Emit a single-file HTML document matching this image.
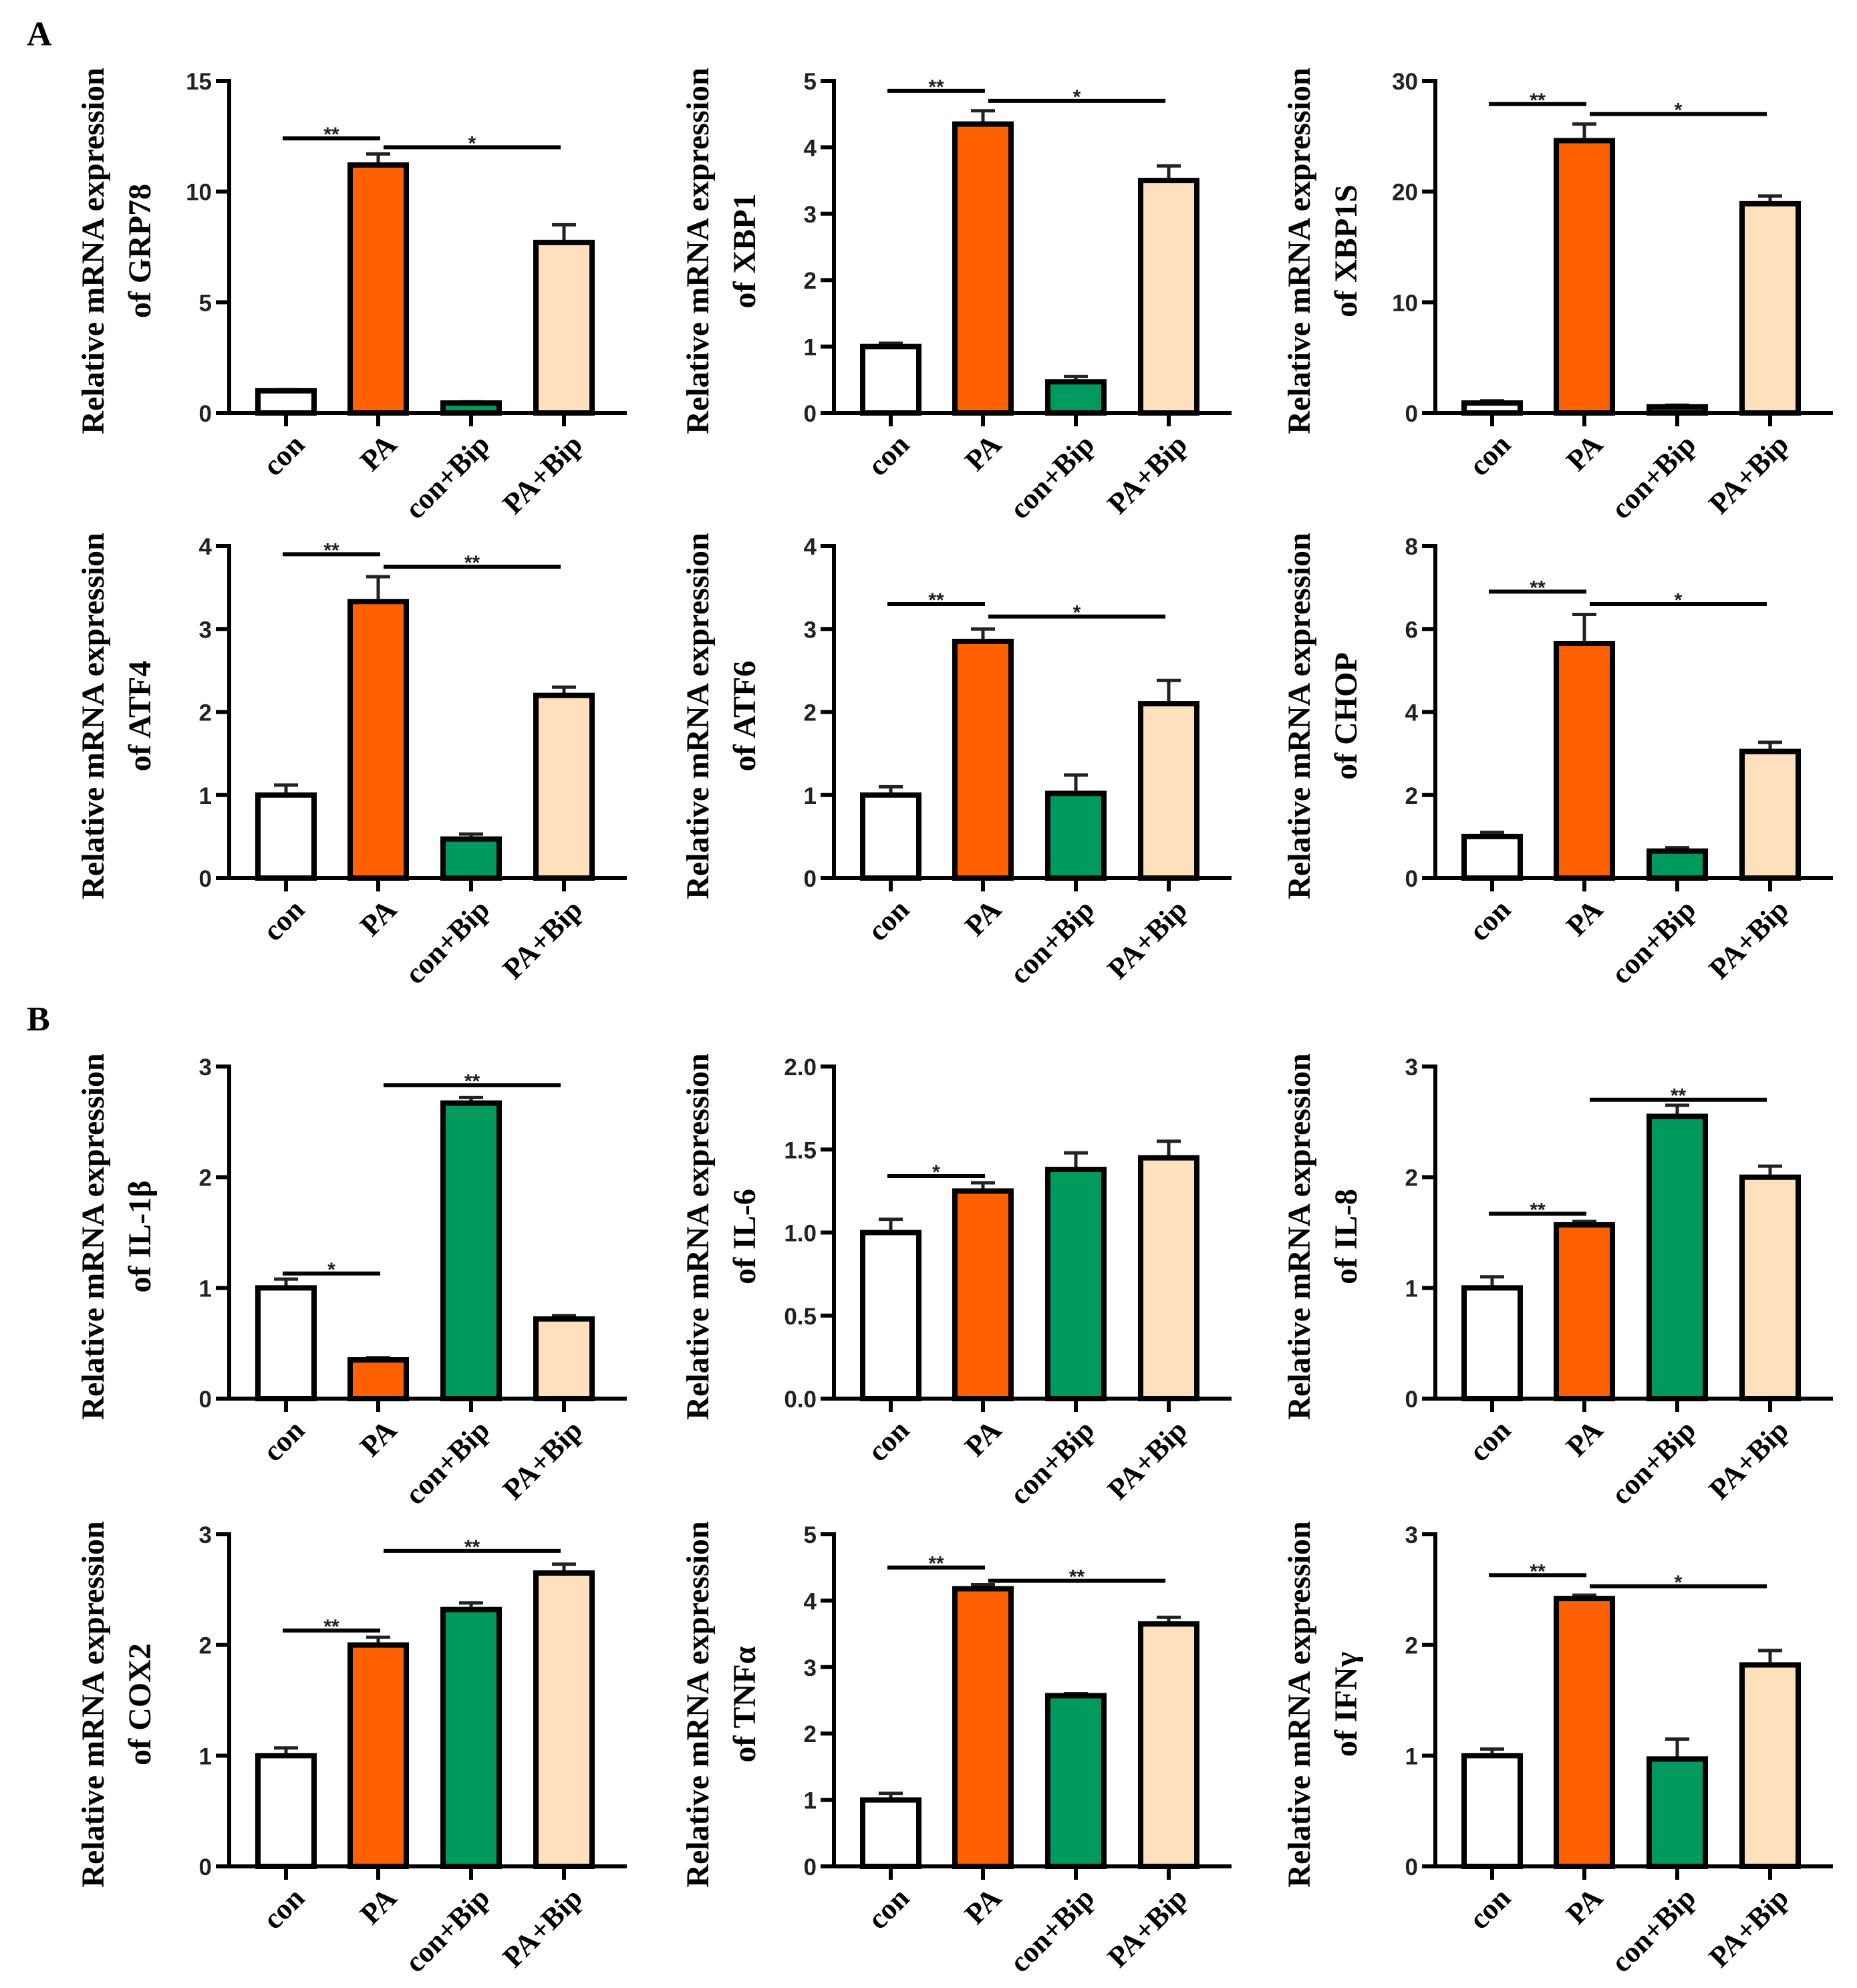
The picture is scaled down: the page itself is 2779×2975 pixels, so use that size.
<!DOCTYPE html>
<html><head><meta charset="utf-8"><style>
html,body{margin:0;padding:0;background:#fff}
svg{display:block}
</style></head><body>
<svg id="fig" width="2779" height="2975" viewBox="0 0 2779 2975" xmlns="http://www.w3.org/2000/svg">
<text x="40" y="68" font-family="Liberation Serif, serif" font-weight="bold" font-size="52">A</text>
<text x="40" y="1542" font-family="Liberation Serif, serif" font-weight="bold" font-size="52">B</text>
</svg>
<script>
const categories = ['con','PA','con+Bip','PA+Bip'];
const genes = ['GRP78','XBP1','XBP1S','ATF4','ATF6','CHOP','IL-1β','IL-6','IL-8','COX2','TNFα','IFNγ'];
const yMax = [15,5,30,4,4,8,3,2,3,3,5,3];
const yTicks = [[0,5,10,15],[0,1,2,3,4,5],[0,10,20,30],[0,1,2,3,4],[0,1,2,3,4],[0,2,4,6,8],[0,1,2,3],[0,0.5,1,1.5,2],[0,1,2,3],[0,1,2,3],[0,1,2,3,4,5],[0,1,2,3]];
const tickDecimals = [0,0,0,0,0,0,0,1,0,0,0,0];
const means = [
 [1.0,11.2,0.45,7.7],[1.0,4.35,0.47,3.5],[0.9,24.6,0.55,18.9],
 [1.0,3.33,0.47,2.2],[1.0,2.85,1.02,2.1],[1.0,5.65,0.65,3.05],
 [1.0,0.35,2.67,0.72],[1.0,1.25,1.38,1.45],[1.0,1.57,2.55,2.0],
 [1.0,2.0,2.32,2.65],[1.0,4.18,2.57,3.65],[1.0,2.42,0.97,1.82]];
const errs = [
 [0.05,0.5,0.05,0.8],[0.05,0.2,0.08,0.22],[0.2,1.5,0.15,0.7],
 [0.12,0.3,0.06,0.1],[0.1,0.15,0.22,0.28],[0.1,0.7,0.08,0.22],
 [0.08,0.02,0.05,0.03],[0.08,0.05,0.1,0.1],[0.1,0.03,0.1,0.1],
 [0.07,0.07,0.06,0.08],[0.1,0.06,0.03,0.1],[0.06,0.03,0.18,0.13]];
const brackets = [
 [[0,1,12.4,'**'],[1,3,12.0,'*']],
 [[0,1,4.85,'**'],[1,3,4.7,'*']],
 [[0,1,27.9,'**'],[1,3,27.0,'*']],
 [[0,1,3.9,'**'],[1,3,3.75,'**']],
 [[0,1,3.3,'**'],[1,3,3.15,'*']],
 [[0,1,6.9,'**'],[1,3,6.6,'*']],
 [[0,1,1.13,'*'],[1,3,2.83,'**']],
 [[0,1,1.34,'*']],
 [[0,1,1.67,'**'],[1,3,2.7,'**']],
 [[0,1,2.13,'**'],[1,3,2.85,'**']],
 [[0,1,4.5,'**'],[1,3,4.3,'**']],
 [[0,1,2.63,'**'],[1,3,2.53,'*']]];
const colors = ['#ffffff','#ff6000','#009a5e','#ffe0bd'];

const NS='http://www.w3.org/2000/svg';
const svg=document.getElementById('fig');
function mk(tag,attrs,parent){const e=document.createElementNS(NS,tag);for(const k in attrs)e.setAttribute(k,attrs[k]);(parent||svg).appendChild(e);return e;}
const colX=[343,1248,2148];
const rowTop=[121,817,1596,2296];
const H=497, barW=84, xEndOff=595;
const barOff=[85,223,362,501];

genes.forEach((g,p)=>{
  const ax=colX[p%3], top=rowTop[Math.floor(p/3)], zero=top+H;
  const grp=mk('g',{});
  
  
  const y=v=>zero-v/yMax[p]*H;
  const x=i=>ax+barOff[i];
  const tt=mk('text',{transform:`translate(${ax-188},${(top+zero)/2+6}) rotate(-90)`,'text-anchor':'middle','font-family':'Liberation Serif, serif','font-weight':'bold','font-size':'48'},grp);
  
  
  const t1=mk('tspan',{x:0,y:0},tt); t1.textContent='Relative mRNA expression';
  const t2=mk('tspan',{x:0,y:70},tt); t2.textContent='of '+g;
  means[p].forEach((m,i)=>{
    const cx=x(i), yt=y(m), ye=y(m+errs[p][i]);
    const eb=mk('line',{x1:cx,x2:cx,y1:yt,y2:ye,stroke:'#222','stroke-width':5},grp);
    
    
    const ec=mk('line',{x1:cx-18,x2:cx+18,y1:ye,y2:ye,stroke:'#222','stroke-width':5},grp);
    
    
    const r=mk('rect',{x:cx-barW/2,y:yt,width:barW,height:Math.max(zero-yt,1),fill:colors[i],stroke:'#000','stroke-width':8},grp);
    
    
    const tk=mk('line',{x1:cx,x2:cx,y1:zero,y2:zero+20,stroke:'#000','stroke-width':6},grp);
    
    
    const lb=mk('text',{transform:`translate(${cx+30},${zero+50}) rotate(-45)`,'text-anchor':'end','font-family':'Liberation Serif, serif','font-weight':'bold','font-size':'44'},grp);
    lb.textContent=categories[i];
    
    
  });
  const ya=mk('line',{x1:ax,x2:ax,y1:top-3,y2:zero+3,stroke:'#000','stroke-width':6},grp);
  
  
  const xa=mk('line',{x1:ax-20,x2:ax+xEndOff,y1:zero,y2:zero,stroke:'#000','stroke-width':6},grp);
  
  
  yTicks[p].forEach(v=>{
    const ty=y(v);
    const t=mk('line',{x1:ax-20,x2:ax,y1:ty,y2:ty,stroke:'#000','stroke-width':6},grp);
    
    
    const l=mk('text',{x:ax-26,y:ty+13,'text-anchor':'end','font-family':'Liberation Sans, sans-serif','font-weight':'bold','font-size':'35',fill:'#222'},grp);
    l.textContent=v.toFixed(tickDecimals[p]);
    
    
  });
  brackets[p].forEach(b=>{
    const by=y(b[2]);
    const x1=x(b[0])+(b[0]===0?-5:8), x2=x(b[1])+(b[1]===3?-5:3);
    const l=mk('line',{x1:x1,x2:x2,y1:by,y2:by,stroke:'#000','stroke-width':6},grp);
    
    
    const s=mk('text',{x:(x1+x2)/2,y:by+4,'text-anchor':'middle','font-family':'Liberation Sans, sans-serif','font-weight':'bold','font-size':'30',fill:'#222'},grp);
    s.textContent=b[3];
    
    
  });
});
</script>
</body></html>
